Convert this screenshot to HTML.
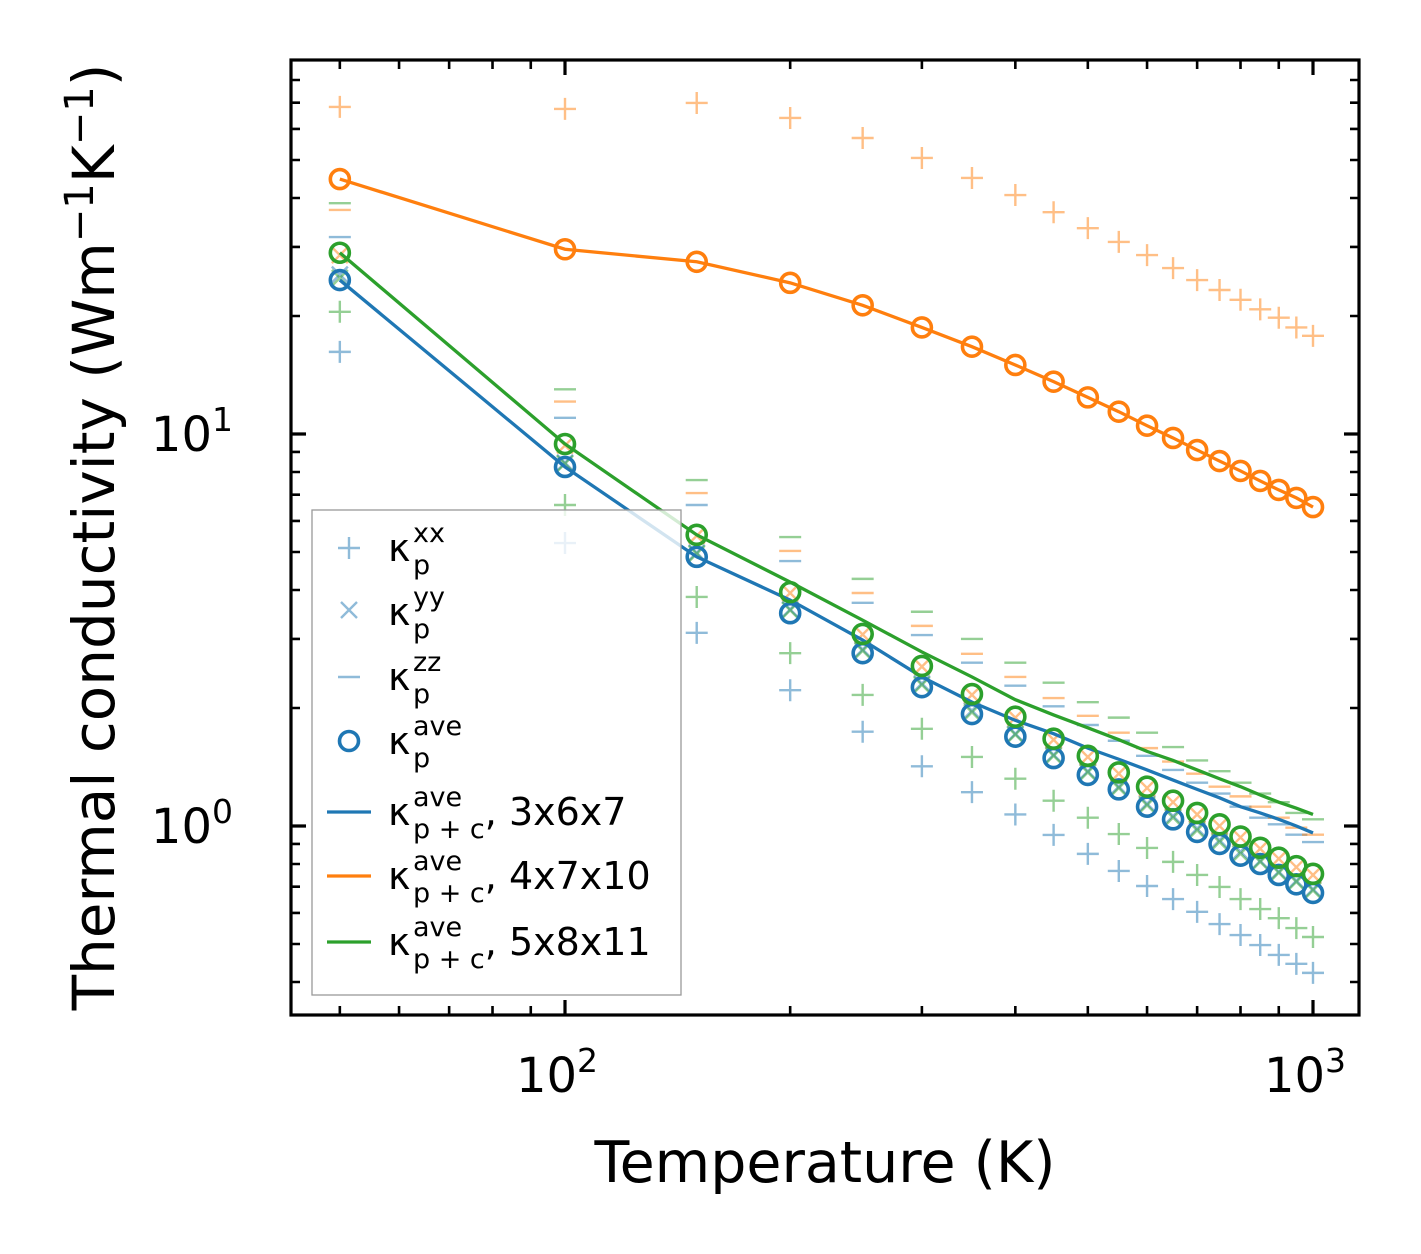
<!DOCTYPE html>
<html><head><meta charset="utf-8"><style>
body{margin:0;background:#fff;}
svg{display:block;font-family:"DejaVu Sans","Liberation Sans",sans-serif;}
</style></head><body>
<svg id="chart" width="1421" height="1254" viewBox="0 0 1421 1254" xmlns="http://www.w3.org/2000/svg">
<rect x="0" y="0" width="1421" height="1254" fill="#fff"/>
<g id="marks"></g>
<g id="axes"></g>
<text x="825" y="1182" font-size="57" text-anchor="middle">Temperature (K)</text>
<text transform="translate(114,537) rotate(-90)" font-size="58" text-anchor="middle">Thermal conductivity (Wm<tspan dy="-21" font-size="40">−1</tspan><tspan dy="21">K</tspan><tspan dy="-21" font-size="40">−1</tspan><tspan dy="21">)</tspan></text>
<g id="legend"></g>
</svg>
<script>
const temps=[50,100,150,200,250,300,350,400,450,500,550,600,650,700,750,800,850,900,950,1000];
const blueAve=[24.7,8.24,4.86,3.49,2.76,2.26,1.93,1.69,1.49,1.35,1.24,1.12,1.04,0.966,0.90,0.84,0.80,0.75,0.71,0.675];
const orangeAve=[44.7,29.6,27.5,24.3,21.3,18.7,16.7,15.0,13.6,12.4,11.4,10.5,9.77,9.10,8.53,8.05,7.59,7.20,6.87,6.51];
const greenAve=[29.0,9.43,5.53,3.95,3.09,2.56,2.17,1.90,1.67,1.51,1.37,1.26,1.16,1.08,1.01,0.94,0.88,0.83,0.79,0.755];
const blueLine=[24.7,8.24,4.86,3.77,2.98,2.40,2.07,1.86,1.72,1.58,1.48,1.39,1.31,1.24,1.18,1.12,1.08,1.04,1.00,0.96];
const orangeLine=[44.7,29.6,27.5,24.3,21.3,18.7,16.7,15.0,13.6,12.4,11.4,10.5,9.77,9.10,8.53,8.05,7.59,7.20,6.87,6.51];
const greenLine=[29.0,9.43,5.53,4.19,3.35,2.78,2.40,2.10,1.92,1.78,1.66,1.55,1.47,1.39,1.32,1.26,1.20,1.15,1.11,1.07];
const blueXX=[16.2,5.27,3.11,2.22,1.74,1.42,1.22,1.07,0.949,0.849,0.768,0.703,0.651,0.604,0.562,0.527,0.497,0.469,0.445,0.422];
const orangeXX=[68.3,67.5,69.9,64.0,56.9,50.6,45.0,40.7,36.8,33.5,30.9,28.6,26.5,24.7,23.3,22.0,20.8,19.8,18.7,17.8];
const greenXX=[20.5,6.59,3.84,2.76,2.16,1.77,1.50,1.32,1.16,1.05,0.954,0.879,0.810,0.750,0.699,0.651,0.614,0.582,0.549,0.521];
const blueYY=[25.5,8.45,4.98,3.57,2.82,2.31,1.97,1.72,1.52,1.38,1.26,1.14,1.06,0.985,0.92,0.86,0.815,0.765,0.725,0.69];
const orangeYY=[28.6,9.35,5.50,3.93,3.08,2.55,2.16,1.89,1.66,1.50,1.36,1.25,1.15,1.07,1.00,0.935,0.875,0.825,0.785,0.75];
const greenYY=[25.0,8.40,4.95,3.55,2.80,2.29,1.95,1.71,1.51,1.37,1.25,1.13,1.05,0.975,0.91,0.85,0.81,0.76,0.72,0.685];
const blueZZ=[31.8,11.0,6.59,4.74,3.71,3.07,2.61,2.28,2.02,1.81,1.65,1.51,1.39,1.29,1.21,1.12,1.05,1.01,0.95,0.91];
const orangeZZ=[37.3,12.1,7.07,5.03,3.93,3.24,2.75,2.40,2.12,1.91,1.73,1.58,1.46,1.36,1.26,1.19,1.12,1.05,0.99,0.95];
const greenZZ=[38.8,13.0,7.63,5.46,4.27,3.52,3.00,2.61,2.32,2.07,1.89,1.73,1.59,1.47,1.38,1.29,1.21,1.15,1.08,1.04];

const NS="http://www.w3.org/2000/svg";
const L=291,R=1359,T=60,B=1015;
function xs(t){return 565+748*Math.log10(t/100);}
function ys(v){return 826-392*Math.log10(v);}
function mk(tag,attrs,parent){const e=document.createElementNS(NS,tag);for(const k in attrs)e.setAttribute(k,attrs[k]);parent.appendChild(e);return e;}
const C={blue:"#1f77b4",orange:"#ff7f0e",green:"#2ca02c"};
const marks=document.getElementById('marks');
function plus(x,y,c,g){return mk('path',{d:`M${x-11},${y}H${x+11}M${x},${y-11}V${y+11}`,stroke:c,'stroke-width':2.4,'stroke-opacity':0.5,fill:'none'},g);}
function cross(x,y,c,g){return mk('path',{d:`M${x-8},${y-8}L${x+8},${y+8}M${x-8},${y+8}L${x+8},${y-8}`,stroke:c,'stroke-width':2.4,'stroke-opacity':0.5,fill:'none'},g);}
function dash(x,y,c,g){return mk('path',{d:`M${x-11},${y}H${x+11}`,stroke:c,'stroke-width':2.4,'stroke-opacity':0.5,fill:'none'},g);}
const sets=[["blue",blueXX,blueYY,blueZZ,blueAve,blueLine],["orange",orangeXX,orangeYY,orangeZZ,orangeAve,orangeLine],["green",greenXX,greenYY,greenZZ,greenAve,greenLine]];
sets.forEach(([n,xx,yy,zz])=>{
  temps.forEach((t,i)=>{
    let e=plus(xs(t),ys(xx[i]),C[n],marks);
    
    
    e=cross(xs(t),ys(yy[i]),C[n],marks);
    
    
    e=dash(xs(t),ys(zz[i]),C[n],marks);
    
    
  });
});
sets.forEach(([n,,,,ave,line])=>{
  const pl=mk('polyline',{points:temps.map((t,i)=>xs(t)+','+ys(line[i])).join(' '),fill:'none',stroke:C[n],'stroke-width':3.3},marks);
  
  
});
sets.forEach(([n,,,,ave])=>{
  temps.forEach((t,i)=>{
    const c=mk('circle',{cx:xs(t),cy:ys(ave[i]),r:9.5,fill:'none',stroke:C[n],'stroke-width':3.6},marks);
    
    
  });
});
const ax=document.getElementById('axes');
const fr=mk('rect',{x:L,y:T,width:R-L,height:B-T,fill:'none',stroke:'#000','stroke-width':3.2},ax);


const xMaj=[100,1000],xMin=[50,60,70,80,90,200,300,400,500,600,700,800,900];
xMaj.forEach(t=>{const x=xs(t);mk('path',{d:`M${x},${B}v-15M${x},${T}v15`,stroke:'#000','stroke-width':3.2},ax);});
xMin.forEach(t=>{const x=xs(t);mk('path',{d:`M${x},${B}v-9M${x},${T}v9`,stroke:'#000','stroke-width':2.6},ax);});
const yMaj=[1,10],yMin=[0.4,0.5,0.6,0.7,0.8,0.9,2,3,4,5,6,7,8,9,20,30,40,50,60,70,80];
yMaj.forEach(v=>{const y=ys(v);mk('path',{d:`M${L},${y}h15M${R},${y}h-15`,stroke:'#000','stroke-width':3.2},ax);});
yMin.forEach(v=>{const y=ys(v);mk('path',{d:`M${L},${y}h9M${R},${y}h-9`,stroke:'#000','stroke-width':2.6},ax);});
const xTickLabels=[["10","2",100],["10","3",1000]];
xTickLabels.forEach(([b,e,t])=>{const tx=mk('text',{x:xs(t)-8,y:1092,'font-size':48,'text-anchor':'middle'},ax);tx.innerHTML=b+`<tspan dy="-20" font-size="33">${e}</tspan>`;

});
const yTickLabels=[["10","0",1],["10","1",10]];
yTickLabels.forEach(([b,e,v])=>{const tx=mk('text',{x:233,y:ys(v)+17,'font-size':48,'text-anchor':'end'},ax);tx.innerHTML=b+`<tspan dy="-20" font-size="33">${e}</tspan>`;

});
const lg=document.getElementById('legend');
mk('rect',{x:312,y:510,width:369,height:485,fill:'#fff','fill-opacity':0.8,stroke:'#999','stroke-width':1.3},lg);
const ent=[["plus","xx","p",548],["cross","yy","p",612],["dash","zz","p",677],["circ","ave","p",741],["line","ave","p + c",812,", 3x6x7",C.blue],["line","ave","p + c",876,", 4x7x10",C.orange],["line","ave","p + c",942,", 5x8x11",C.green]];
ent.forEach(([t,sup,sub,y,tail,col])=>{
  const g=mk('g',{},lg);
  
  
  const x=349;
  if(t==='plus')plus(x,y,C.blue,g);
  if(t==='cross')cross(x,y-2,C.blue,g);
  if(t==='dash')dash(x,y,C.blue,g);
  if(t==='circ')mk('circle',{cx:x,cy:y,r:9.5,fill:'none',stroke:C.blue,'stroke-width':3.6},g);
  if(t==='line')mk('path',{d:`M${x-22},${y}H${x+22}`,stroke:col,'stroke-width':3.3},g);
  const tx=mk('text',{x:388,y:y+13,'font-size':38},g);
  if(t==='line'){tx.innerHTML=`κ<tspan x="413" dy="-19" font-size="27">${sup}</tspan><tspan x="413" dy="32" font-size="27">${sub}</tspan><tspan dy="-13">${tail}</tspan>`;}
  else{tx.innerHTML=`κ<tspan x="413" dy="-19" font-size="27">${sup}</tspan><tspan x="413" dy="32" font-size="27">${sub}</tspan>`;}
});
</script>
</body></html>
